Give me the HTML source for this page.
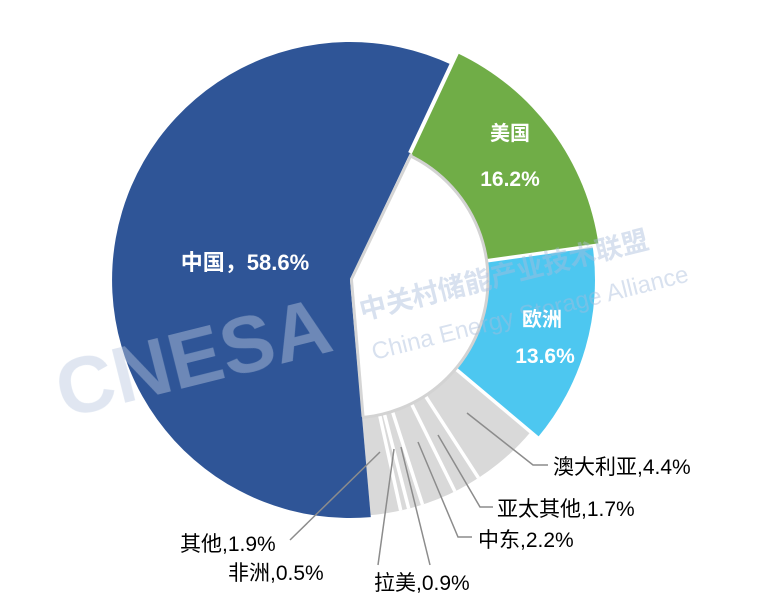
<!DOCTYPE html>
<html><head><meta charset="utf-8"><style>
html,body{margin:0;padding:0;background:#fff;}
svg{display:block;}
text{font-family:"Liberation Sans","Noto Sans CJK SC",sans-serif;}
</style></head><body>
<svg width="766" height="606" viewBox="0 0 766 606" xmlns="http://www.w3.org/2000/svg">
<rect width="766" height="606" fill="#fff"/>
<path d="M350,280 L457.3,53.1 A251,251 0 0 1 598.6,245.1 Z" fill="#70ad47"/>
<path d="M350,280 L592.6,245.9 A245,245 0 0 1 537.7,437.5 Z" fill="#4dc7f0"/>
<path d="M350,280 L530.8,431.7 A236,236 0 0 1 370.6,515.1 Z" fill="#d9d9d9"/>
<g stroke="#fff" stroke-width="3.5">
<line x1="350" y1="280" x2="600" y2="244.9"/>
<line x1="350" y1="280" x2="545" y2="444"/>
<line x1="425.2" y1="395.7" x2="478.5" y2="477.9"/>
<line x1="411.4" y1="403.6" x2="454.9" y2="491.4"/>
<line x1="392.4" y1="411.3" x2="422.5" y2="504.6"/>
<line x1="384.3" y1="413.7" x2="408.7" y2="508.6"/>
<line x1="379.6" y1="414.8" x2="400.7" y2="510.5"/>
</g>
<circle cx="350" cy="280" r="138" fill="#fff" stroke="#d3d3d3" stroke-width="3"/>
<path d="M350,280 L370.8,517.1 A238,238 0 1 1 451.7,64.8 Z" fill="#2f5597"/>
<g stroke="#d5d5d5" stroke-width="3" stroke-linecap="round">
<line x1="351.5" y1="280" x2="363" y2="416"/>
<line x1="351.5" y1="279" x2="411" y2="155"/>
</g>
<line x1="410" y1="153" x2="462" y2="42" stroke="#fff" stroke-width="4"/>
<g opacity="0.45" font-weight="bold">
<text x="64" y="418" font-size="80" transform="rotate(-14 64 418)" fill="#b9c8e0">CNESA</text>
<text x="362" y="320" font-size="27" transform="rotate(-14 362 320)" fill="#a9bddb">中关村储能产业技术联盟</text>
<text x="374" y="360" font-size="24" font-weight="normal" transform="rotate(-14 374 360)" fill="#a9bddb">China Energy Storage Alliance</text>
</g>
<g fill="#fff" font-weight="bold" text-anchor="middle">
<text x="510" y="140" font-size="20">美国</text>
<text x="510" y="186" font-size="21">16.2%</text>
<text x="542" y="326" font-size="20">欧洲</text>
<text x="545" y="363" font-size="21">13.6%</text>
<text x="245" y="270" font-size="22">中国，58.6%</text>
</g>
<g stroke="#8c8c8c" stroke-width="1.5" fill="none">
<polyline points="467,413 533,465 548,465"/>
<polyline points="438,435 480,507 493,507"/>
<polyline points="418,442 458,537 472,537"/>
<polyline points="401,447 430,565"/>
<polyline points="394,449 378,565"/>
<polyline points="380,452 290,540"/>
</g>
<g fill="#000" font-size="21">
<text x="553" y="474">澳大利亚,4.4%</text>
<text x="497" y="516">亚太其他,1.7%</text>
<text x="478" y="547">中东,2.2%</text>
<text x="180" y="551">其他,1.9%</text>
<text x="228" y="580">非洲,0.5%</text>
<text x="374" y="590">拉美,0.9%</text>
</g>
</svg>
</body></html>
